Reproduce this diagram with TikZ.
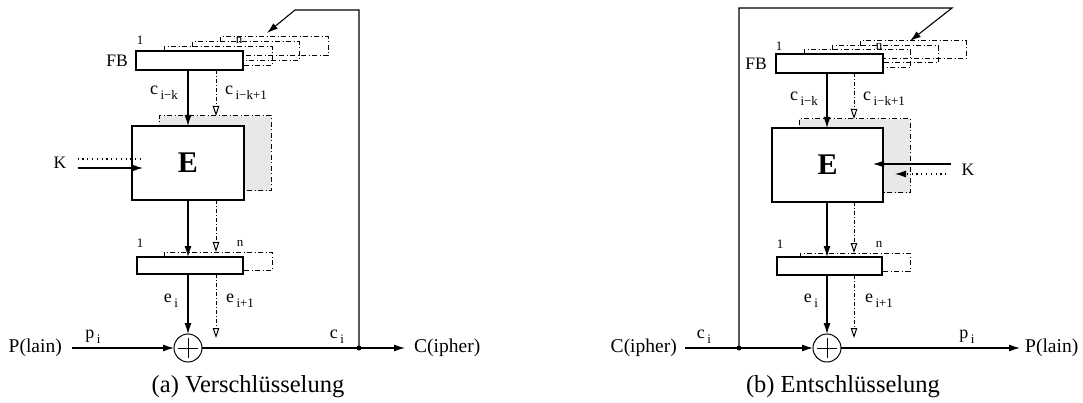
\documentclass[tikz,border=0pt]{standalone}
\usepackage{fontspec}
\setmainfont{Liberation Serif}
\usetikzlibrary{arrows.meta}

% letter with a lowered, smaller index
\newcommand\sublab[2]{#1\kern2.5pt\raisebox{-4.5pt}{\fontsize{13}{13}\selectfont #2}}

\tikzset{
  wire/.style={line width=1.1pt},
  main/.style={wire,-{Latex[length=11pt,width=7pt]}},
  alt/.style={line width=1pt,dash pattern=on 4pt off 2pt on 1pt off 2pt,
              -{Triangle[open,length=10pt,width=6.5pt,line width=1pt]}},
  ddash/.style={line width=1pt,dash pattern=on 5pt off 2.5pt on 1pt off 2.5pt},
  dotline/.style={line width=1.1pt,dash pattern=on 1.2pt off 3.6pt},
  regbox/.style={draw,line width=1.1pt,fill=white,inner sep=0pt,outer sep=0pt},
  shade/.style={ddash,draw,fill=black!9,inner sep=0pt,outer sep=0pt},
  xorbox/.style={circle,draw,line width=1pt,minimum size=28pt,inner sep=0pt,outer sep=0pt},
  lbl/.style={font=\fontsize{19.5}{19.5}\selectfont,inner sep=0pt},
  klbl/.style={font=\fontsize{17.5}{17.5}\selectfont,inner sep=0pt},
  sml/.style={font=\fontsize{13}{13}\selectfont,inner sep=0pt},
  idx/.style={font=\fontsize{18}{18}\selectfont,inner sep=0pt},
  captext/.style={font=\fontsize{24.5}{24.5}\selectfont,inner sep=0pt},
  junct/.style={circle,fill,inner sep=0pt,minimum size=5pt},
}

\begin{document}
\begin{tikzpicture}[x=1pt,y=-1pt]
\useasboundingbox (0,0) rectangle (1083,403);

% ================= (a) Verschluesselung =================
\coordinate (sA) at (188,0);   % solid lane
\coordinate (dA) at (216,0);   % dash-dot lane

% feedback register stack
\draw[ddash] (220,42) -- (220,37) -- (328,37) -- (328,56) -- (243,56);
\draw[ddash] (192,47) -- (192,42) -- (299,42) -- (299,61) -- (243,61);
\draw[ddash] (164,51) -- (164,47) -- (272,47) -- (272,66) -- (243,66);
\node[regbox,minimum width=107pt,minimum height=19pt] (fbA) at (189.5,60.5) {};
\node[klbl,anchor=east] (fbAl) at (128,61) {FB};
\node[sml] (oneA) at (140,40) {1};
\node[sml] (nA) at (239,40) {n};

% block cipher with its shadow
\node[shade,minimum width=112pt,minimum height=75pt] (shA) at (215,153.5) {};
\draw[alt] (dA |- fbA.south) -- (dA |- shA.north);
\draw[alt] (dA |- shA.south) -- (dA |- 0,252);
\node[regbox,minimum width=112pt,minimum height=74pt] (eA) at (188,163)
  {\fontsize{30}{30}\selectfont\bfseries E};
\draw[main] (sA |- fbA.south) -- (sA |- eA.north);
\node[idx] (ckA) at (164,93) {\sublab{c}{i−k}};
\node[idx] (ck1A) at (246,93) {\sublab{c}{i−k+1}};

% key inputs
\node[klbl] (kA) at (60,163) {K};
\draw[dotline] ([xshift=11pt,yshift=4pt]kA.east) -- ([xshift=11pt,yshift=4pt]kA.east -| eA.west);
\draw[main] ([xshift=11pt,yshift=-5pt]kA.east) -- ([xshift=11pt,yshift=-5pt]kA.east -| eA.west);

% output register
\draw[ddash] (164,257) -- (164,252) -- (272,252) -- (272,270) -- (243,270);
\node[regbox,minimum width=106pt,minimum height=17pt] (rA) at (190,265.5) {};
\node[sml] (oneA2) at (140,243) {1};
\node[sml] (nA2) at (240,243) {n};
\draw[main] (sA |- eA.south) -- (sA |- rA.north);

% combiner
\node[xorbox] (xA) at (188,348) {};
\draw[line width=1pt] ([yshift=-4pt]xA.north) -- ([yshift=4pt]xA.south)
                      ([xshift=4pt]xA.west) -- ([xshift=-4pt]xA.east);
\draw[main] (sA |- rA.south) -- (xA.north);
\draw[alt] (dA |- rA.south) -- (dA |- 0,338);
\node[idx] (eiA) at (171,301) {\sublab{e}{i}};
\node[idx] (ei1A) at (240,301) {\sublab{e}{i+1}};

% data path
\node[lbl,anchor=east] (pA) at (62,348) {P(lain)};
\node[lbl,anchor=west] (cA) at (414,348) {C(ipher)};
\coordinate (jA) at (359,348);
\coordinate (tA) at (295,10);
\coordinate (fA) at (267,33);
\draw[main] ([xshift=10pt]pA.east) -- (xA.west);
\draw[main] (xA.east) -- ([xshift=-9pt]cA.west);
\draw[main] (jA) -- (jA |- tA) -- (tA) -- (fA);
\node[junct] (jAd) at (jA) {};
\node[idx] (piA) at (93,337) {\sublab{p}{i}};
\node[idx] (ciA) at (337,337) {\sublab{c}{i}};
\node[captext] (capA) at (248,387) {(a) Verschlüsselung};

% ================= (b) Entschluesselung =================
\coordinate (sB) at (827,0);
\coordinate (dB) at (854,0);

\draw[ddash] (860,46) -- (860,41) -- (966,41) -- (966,59) -- (883,59);
\draw[ddash] (832,50) -- (832,46) -- (938,46) -- (938,63) -- (883,63);
\draw[ddash] (804,54) -- (804,50) -- (910,50) -- (910,68) -- (883,68);
\node[regbox,minimum width=107pt,minimum height=19pt] (fbB) at (829.5,63.5) {};
\node[klbl,anchor=east] (fbBl) at (767,64) {FB};
\node[sml] (oneB) at (779,46) {1};
\node[sml] (nB) at (879,46) {n};

\node[shade,minimum width=111pt,minimum height=74pt] (shB) at (854.5,156) {};
\draw[alt] (dB |- fbB.south) -- (dB |- shB.north);
\draw[alt] (dB |- shB.south) -- (dB |- 0,253);
\node[regbox,minimum width=111pt,minimum height=74pt] (eB) at (827.5,165)
  {\fontsize{30}{30}\selectfont\bfseries E};
\draw[main] (sB |- fbB.south) -- (sB |- eB.north);
\node[idx] (ckB) at (804,99) {\sublab{c}{i−k}};
\node[idx] (ck1B) at (884,99) {\sublab{c}{i−k+1}};

% key inputs enter from the right: solid above, dotted below
\node[klbl] (kB) at (968,170) {K};
\draw[main] ([xshift=-10pt,yshift=6pt]kB.west) -- ([xshift=-10pt,yshift=6pt]kB.west -| eB.east);
\draw[dotline,-{Latex[length=11pt,width=7pt]}] ([xshift=-15pt,yshift=-4pt]kB.west) -- ([xshift=-15pt,yshift=-4pt]kB.west -| shB.east);

\draw[ddash] (800,257) -- (800,253) -- (910,253) -- (910,271) -- (882,271);
\node[regbox,minimum width=105pt,minimum height=18pt] (rB) at (829.5,266) {};
\node[sml] (oneB2) at (780,244) {1};
\node[sml] (nB2) at (879,244) {n};
\draw[main] (sB |- eB.south) -- (sB |- rB.north);

\node[xorbox] (xB) at (827,348) {};
\draw[line width=1pt] ([yshift=-4pt]xB.north) -- ([yshift=4pt]xB.south)
                      ([xshift=4pt]xB.west) -- ([xshift=-4pt]xB.east);
\draw[main] (sB |- rB.south) -- (xB.north);
\draw[alt] (dB |- rB.south) -- (dB |- 0,338);
\node[idx] (eiB) at (811,301) {\sublab{e}{i}};
\node[idx] (ei1B) at (879,301) {\sublab{e}{i+1}};

\node[lbl,anchor=east] (cB) at (677,348) {C(ipher)};
\node[lbl,anchor=west] (pB) at (1025,348) {P(lain)};
\coordinate (jB) at (739,348);
\coordinate (tB) at (952,8);
\coordinate (fB) at (910,41);
\draw[main] ([xshift=8pt]cB.east) -- (xB.west);
\draw[main] (xB.east) -- ([xshift=-5pt]pB.west);
\draw[main] (jB) -- (jB |- tB) -- (tB) -- (fB);
\node[junct] (jBd) at (jB) {};
\node[idx] (ciB) at (704,337) {\sublab{c}{i}};
\node[idx] (piB) at (967,337) {\sublab{p}{i}};
\node[captext] (capB) at (843,387) {(b) Entschlüsselung};
\end{tikzpicture}
\end{document}
